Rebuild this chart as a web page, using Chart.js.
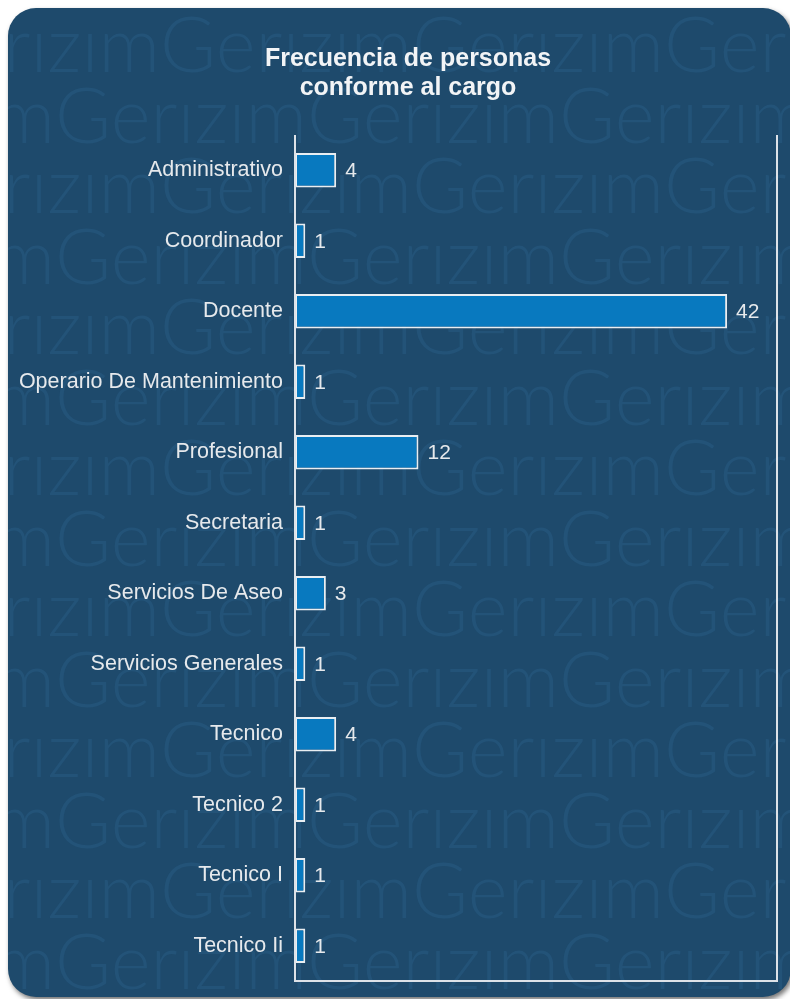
<!DOCTYPE html>
<html>
<head>
<meta charset="utf-8">
<script src="https://cdn.jsdelivr.net/npm/chart.js@4.4.0/dist/chart.umd.min.js"></script>
<style>
  html, body { margin: 0; padding: 0; background: #ffffff; overflow: hidden; }
  #card {
    position: absolute; left: 8px; top: 8px; width: 783px; height: 989px;
    background: #1e4a6c; border-radius: 28px; overflow: hidden;
    box-shadow: 2px 3px 5px rgba(0,0,0,0.55);
  }
  canvas { display: block; }
</style>
</head>
<body>
<div id="card"><canvas id="c" width="783" height="989"></canvas></div>
<script>
const categories = [
  "Administrativo", "Coordinador", "Docente", "Operario De Mantenimiento",
  "Profesional", "Secretaria", "Servicios De Aseo", "Servicios Generales",
  "Tecnico", "Tecnico 2", "Tecnico I", "Tecnico Ii"
];
const frecuencia = [4, 1, 42, 1, 12, 1, 3, 1, 4, 1, 1, 1];
const titleLines = ["Frecuencia de personas", "conforme al cargo"];
const watermarkWord = "Gerızım";

const FONT = "'Liberation Sans', Arial, sans-serif";

const watermarkPlugin = {
  id: 'watermark',
  beforeDraw(chart) {
    const ctx = chart.ctx;
    ctx.save();
    ctx.fillStyle = '#235378';
    ctx.font = "300 62px Lato, 'Open Sans', sans-serif";
    const w = ctx.measureText(watermarkWord).width;
    const period = 252;
    const size = 62 * period / w;
    ctx.font = "300 " + size.toFixed(1) + "px Lato, 'Open Sans', sans-serif";
    ctx.textBaseline = 'alphabetic';
    for (let r = 0; r < 15; r++) {
      const y = 64 + r * 70.5;
      const gx = (r % 2 === 0) ? 152 : 47;
      for (let x = gx - 3 * period; x < chart.width + period; x += period) {
        ctx.fillText(watermarkWord, x, y);
      }
    }
    ctx.restore();
  }
};

const titlePlugin = {
  id: 'cardTitle',
  afterDraw(chart) {
    const ctx = chart.ctx;
    ctx.save();
    ctx.fillStyle = '#f2f4f6';
    ctx.font = "bold 25px " + FONT;
    ctx.textAlign = 'center';
    ctx.textBaseline = 'alphabetic';
    titleLines.forEach((t, i) => ctx.fillText(t, 400, 58 + i * 29));
    ctx.restore();
  }
};

const framePlugin = {
  id: 'frame',
  afterDatasetsDraw(chart) {
    const { ctx, chartArea: a } = chart;
    ctx.save();
    ctx.strokeStyle = '#dde2e8';
    ctx.lineWidth = 2;
    ctx.beginPath();
    ctx.moveTo(a.left, a.top);
    ctx.lineTo(a.left, a.bottom);
    ctx.lineTo(a.right, a.bottom);
    ctx.lineTo(a.right, a.top);
    ctx.stroke();
    ctx.restore();
  }
};

const valueLabelPlugin = {
  id: 'valueLabels',
  afterDatasetsDraw(chart) {
    const ctx = chart.ctx;
    const meta = chart.getDatasetMeta(0);
    ctx.save();
    ctx.fillStyle = '#e6e9ec';
    ctx.font = "21px " + FONT;
    ctx.textAlign = 'left';
    ctx.textBaseline = 'middle';
    meta.data.forEach((bar, i) => {
      ctx.fillText(String(frecuencia[i]), bar.x + 9, bar.y + 1);
    });
    ctx.restore();
  }
};

new Chart(document.getElementById('c'), {
  type: 'bar',
  data: {
    labels: categories,
    datasets: [{
      data: frecuencia,
      backgroundColor: '#0879bf',
      borderColor: '#e9eef2',
      borderWidth: 2,
      borderSkipped: false,
      categoryPercentage: 1,
      barPercentage: 0.49
    }]
  },
  options: {
    indexAxis: 'y',
    responsive: false,
    animation: false,
    layout: { padding: { left: 0, right: 14, top: 127, bottom: 16 } },
    plugins: {
      legend: { display: false },
      tooltip: { enabled: false },
      title: { display: false }
    },
    scales: {
      x: {
        display: false,
        min: 0,
        max: 46.85
      },
      y: {
        grid: { display: false, drawTicks: false },
        border: { display: false },
        ticks: {
          color: '#e6e9ec',
          font: { family: FONT, size: 21.5 },
          padding: 12
        },
        afterFit(scale) {
          scale.width = 287;
          scale.paddingTop = 0;
          scale.paddingBottom = 0;
        }
      }
    }
  },
  plugins: [watermarkPlugin, framePlugin, valueLabelPlugin, titlePlugin]
});
</script>
</body>
</html>
